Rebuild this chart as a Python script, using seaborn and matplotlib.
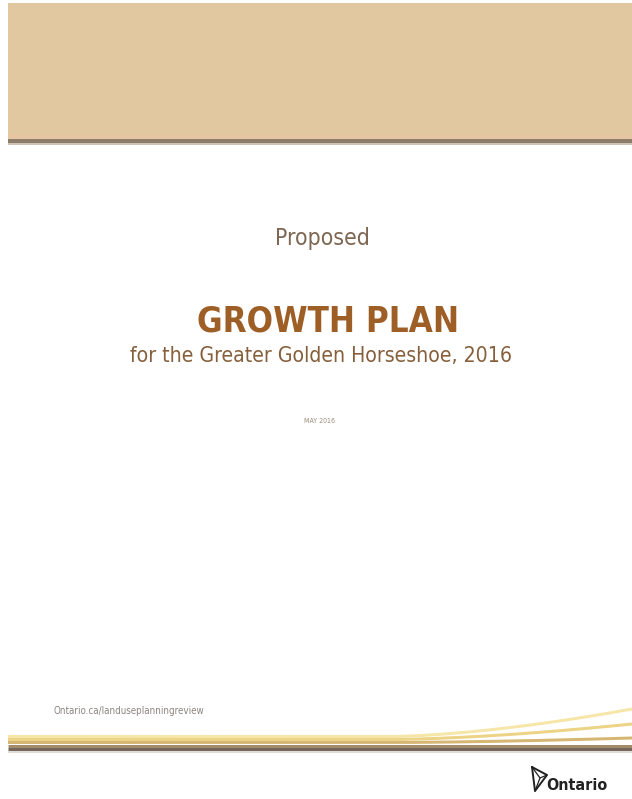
import numpy as np
import seaborn as sns
import matplotlib.pyplot as plt
from matplotlib.patches import Rectangle

# Cover texts
kicker = "Proposed"
title = "GROWTH PLAN"
subtitle = "for the Greater Golden Horseshoe, 2016"
date_label = "MAY 2016"
url_label = "Ontario.ca/landuseplanningreview"
logo_label = "Ontario"

# Bottom swoosh: start / end height of each stripe (page pixels)
stripe_base = [736.5, 739.5, 742.5, 745.5, 748.5, 751.5]
stripe_end = [709, 724, 738, 745.5, 748.5, 751.5]
stripe_colors = ["#f6e6a8", "#edd385", "#d6b673", "#a38a6a", "#74685c", "#d9d1c9"]
stripe_widths = [3.0, 3.0, 3.0, 3.0, 3.0, 1.5]

sns.set_theme(style="white")
plt.rcParams['font.family'] = ['DejaVu Sans']

fig = plt.figure(figsize=(6.32, 7.99), dpi=100)
ax = fig.add_axes([0, 0, 1, 1])
ax.set_xlim(0, 632)
ax.set_ylim(799, 0)
ax.axis("off")

# top band and rule
ax.add_patch(Rectangle((8, 3), 624, 136, color="#e2c8a0", lw=0))
ax.add_patch(Rectangle((8, 134), 624, 5, color="#e6c5a2", lw=0))
ax.add_patch(Rectangle((8, 139), 624, 4, color="#8d7c69", lw=0))
ax.add_patch(Rectangle((8, 143), 624, 1.5, color="#cfc3b5", lw=0))

# headings
ax.text(322, 238, kicker, ha="center", va="center", fontsize=16.5,
        color="#7d6752", fontstretch="condensed")
ax.text(328, 321, title, ha="center", va="center", fontsize=25,
        fontweight="bold", color="#9e5f26", fontstretch="condensed")
ax.text(321, 356, subtitle, ha="center", va="center", fontsize=15.2,
        color="#86603c", fontstretch="condensed")
ax.text(320, 421, date_label, ha="center", va="center", fontsize=5,
        color="#9a8a7a", fontstretch="condensed")
ax.text(53, 711, url_label, ha="left", va="center", fontsize=7,
        color="#8a8480", fontstretch="condensed")

# swoosh stripes
xs = np.linspace(8, 632, 300)
t = np.clip((xs - 390) / (632 - 390), 0, 1)
for base, end, col, w in zip(stripe_base, stripe_end, stripe_colors, stripe_widths):
    ys = base + (end - base) * t ** 1.6
    ax.plot(xs, ys, color=col, lw=w * 0.72, solid_capstyle="butt")

# Ontario logo: simple trillium outline
tri = np.array([[532, 767], [547, 775], [535, 791], [532, 767]])
ax.plot(tri[:, 0], tri[:, 1], color="#222222", lw=1.4)
ax.plot([532, 540, 547], [767, 778, 775], color="#222222", lw=0.9)
ax.plot([535, 540], [791, 778], color="#222222", lw=0.9)
ax.text(546, 785, logo_label, ha="left", va="center", fontsize=11.5,
        color="#222222", fontweight="bold", fontstretch="condensed")

fig.savefig("out.png", dpi=100)
